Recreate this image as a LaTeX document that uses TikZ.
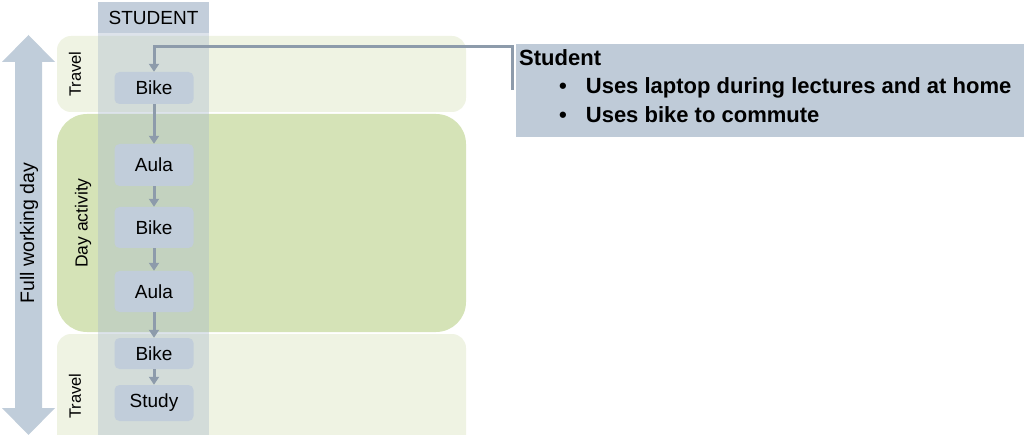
\documentclass[tikz,border=0pt]{standalone}
\usepackage{fontspec}
\setmainfont{Liberation Sans}
\usetikzlibrary{arrows.meta}
\definecolor{travelbg}{HTML}{EFF3E3}
\definecolor{daybg}{HTML}{D5E3B7}
\definecolor{colbg}{HTML}{A9BACC}
\definecolor{headbg}{HTML}{C3CEDB}
\definecolor{nodebg}{HTML}{C1CDDA}
\definecolor{arr}{HTML}{8D9BAB}
\definecolor{bigarr}{HTML}{C0CDDA}
\definecolor{callbg}{HTML}{BFCBD8}
\tikzset{
  actbox/.style={fill=nodebg, rounded corners=5pt, minimum width=79pt, inner sep=0pt, font=\fontsize{19}{20}\selectfont},
  flow/.style={draw=arr, line width=3pt, -{Triangle[length=8pt,width=10pt]}},
  bandlabel/.style={rotate=90, font=\fontsize{16.5}{18}\selectfont},
}
\begin{document}
\begin{tikzpicture}[x=1pt,y=-1pt]
\useasboundingbox (0,0) rectangle (1024,435);
% bands
\fill[travelbg, rounded corners=14pt] (57,36) rectangle (466,112);
\fill[daybg, rounded corners=30pt] (57,114) rectangle (466,332);
\fill[travelbg, rounded corners=14pt] (57,334) rectangle (466,450);
% student column
\fill[colbg, opacity=0.4] (98,33) rectangle (209,435);
\fill[headbg] (98,2) rectangle (209,33);
\node[font=\fontsize{19}{20}\selectfont] (head) at (153.5,18) {STUDENT};
% big double arrow
\fill[bigarr] (28.5,35) -- (55,62) -- (42,62) -- (42,408) -- (55,408) -- (28.5,435) -- (2,408) -- (15,408) -- (15,62) -- (2,62) -- cycle;
\node[bandlabel, font=\fontsize{19.5}{20}\selectfont] (fwd) at (29,233) {Full working day};
% band labels
\node[bandlabel] (tr1) at (75,74) {Travel};
\node[bandlabel, font=\fontsize{17.5}{18}\selectfont] (da) at (83,223) {Day activity};
\node[bandlabel] (tr2) at (75,396) {Travel};
% activity nodes
\node[actbox, minimum height=32pt] (b1) at (154,88) {Bike};
\node[actbox, minimum height=42pt] (a1) at (154,165) {Aula};
\node[actbox, minimum height=41pt] (b2) at (154,227.5) {Bike};
\node[actbox, minimum height=41pt] (a2) at (154,291.5) {Aula};
\node[actbox, minimum height=31pt] (b3) at (154,353.5) {Bike};
\node[actbox, minimum height=36pt] (st) at (154,403) {Study};
\draw[flow] (b1) -- (a1);
\draw[flow] (a1) -- (b2);
\draw[flow] (b2) -- (a2);
\draw[flow] (a2) -- (b3);
\draw[flow] (b3) -- (st);
% callout
\node[fill=callbg, anchor=north west, minimum width=508pt, minimum height=93pt, inner sep=0pt] (call) at (516,44) {};
\node[anchor=north west, align=left, inner sep=0pt, font=\bfseries\fontsize{22}{28.5}\selectfont] (calltext) at (519,49)
 {Student\\
  \hspace*{40pt}\textbullet\hspace{19pt}Uses laptop during lectures and at home\\
  \hspace*{40pt}\textbullet\hspace{19pt}Uses bike to commute};
\coordinate (cend) at (512,90);
\draw[draw=arr, line width=3pt, -{Triangle[length=8pt,width=10pt]}] (cend) -- (512,47) -- (154,47) -- (b1.north);
\end{tikzpicture}
\end{document}
